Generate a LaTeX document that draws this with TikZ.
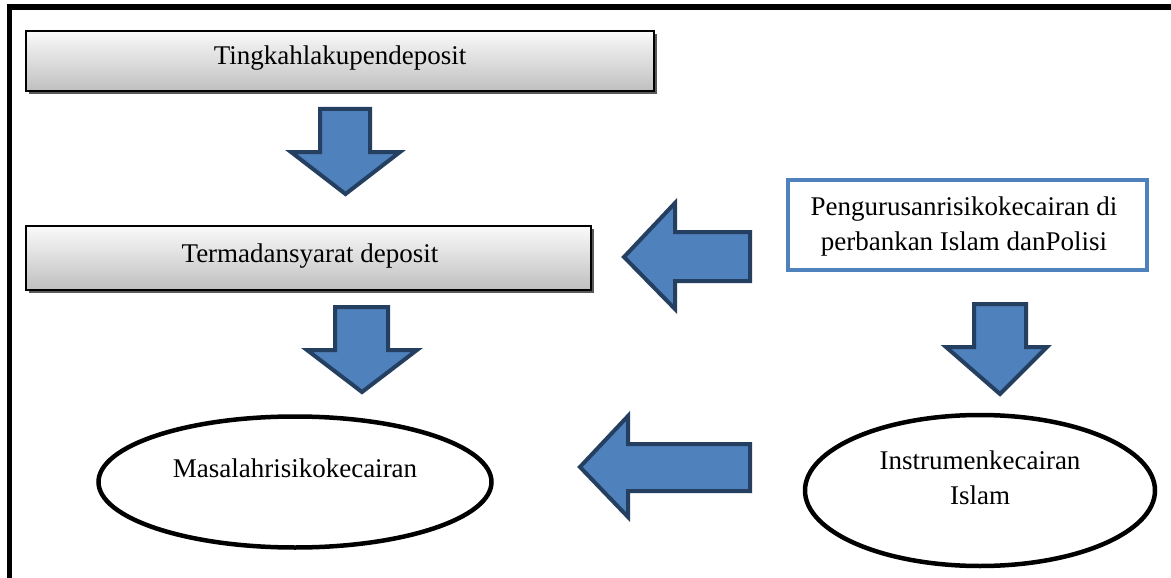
\documentclass[tikz,border=0pt]{standalone}
\usepackage{fontspec}
\setmainfont{Liberation Serif}
\usetikzlibrary{shapes.geometric,shadows}
\definecolor{arrowfill}{HTML}{4F81BD}
\definecolor{arrowline}{HTML}{243F60}
\definecolor{boxblue}{HTML}{4F81BD}
\begin{document}
\begin{tikzpicture}[x=1pt,y=-1pt,
  txt/.style={font=\fontsize{27}{35}\selectfont, inner sep=0pt, align=center},
  graybox/.style={draw=black, line width=2pt, top color=white!96!gray, bottom color=black!25,
    drop shadow={shadow xshift=3pt, shadow yshift=-3pt, fill=black!65, opacity=1}},
  bluebox/.style={draw=boxblue, line width=4.5pt, fill=white},
  oval/.style={draw=black, line width=4.5pt, ellipse, inner sep=0pt},
  blockarrow/.style={draw=arrowline, fill=arrowfill, line width=4pt, line join=miter}]
\useasboundingbox (0,0) rectangle (1171,578);
\fill[white] (0,0) rectangle (1171,578);
% frame
\draw[line width=5.5pt] (9.5,578) -- (9.5,7) -- (1171,7);
% gray boxes
\node[graybox, minimum width=628pt, minimum height=60pt, anchor=north west] (b1) at (25,30) {};
\node[txt] (t1) at (340,58) {Tingkahlakupendeposit};
\node[graybox, minimum width=565pt, minimum height=64pt, anchor=north west] (b2) at (25,225) {};
\node[txt] (t2) at (310,256) {Termadansyarat deposit};
% blue box
\node[bluebox, minimum width=359pt, minimum height=90pt, anchor=north west] (b3) at (785.5,177.5) {};
\node[txt] (t3) at (964,227) {Pengurusanrisikokecairan di\\perbankan Islam danPolisi};
% ellipses
\node[oval, minimum width=393pt, minimum height=131pt] (e1) at (295,482) {};
\node[txt] (t4) at (295,468) {Masalahrisikokecairan};
\node[oval, minimum width=350pt, minimum height=151pt] (e2) at (980,490.5) {};
\node[txt] (t5) at (980,478) {Instrumenkecairan\\Islam};
% arrows down
\draw[blockarrow] (320,109) -- (370,109) -- (370,152) -- (400,152) -- (345.5,194) -- (291,152) -- (320,152) -- cycle;
\draw[blockarrow] (335,307) -- (388,307) -- (388,350) -- (417,350) -- (362,392) -- (307,350) -- (335,350) -- cycle;
\draw[blockarrow] (974,304) -- (1026,304) -- (1026,347) -- (1047,347) -- (1000,394) -- (946,347) -- (974,347) -- cycle;
% arrows left
\draw[blockarrow] (750,232) -- (675,232) -- (675,203) -- (624,257) -- (675,309) -- (675,281) -- (750,281) -- cycle;
\draw[blockarrow] (750,444) -- (628,444) -- (628,416) -- (580,467) -- (628,517) -- (628,491) -- (750,491) -- cycle;
\end{tikzpicture}
\end{document}
